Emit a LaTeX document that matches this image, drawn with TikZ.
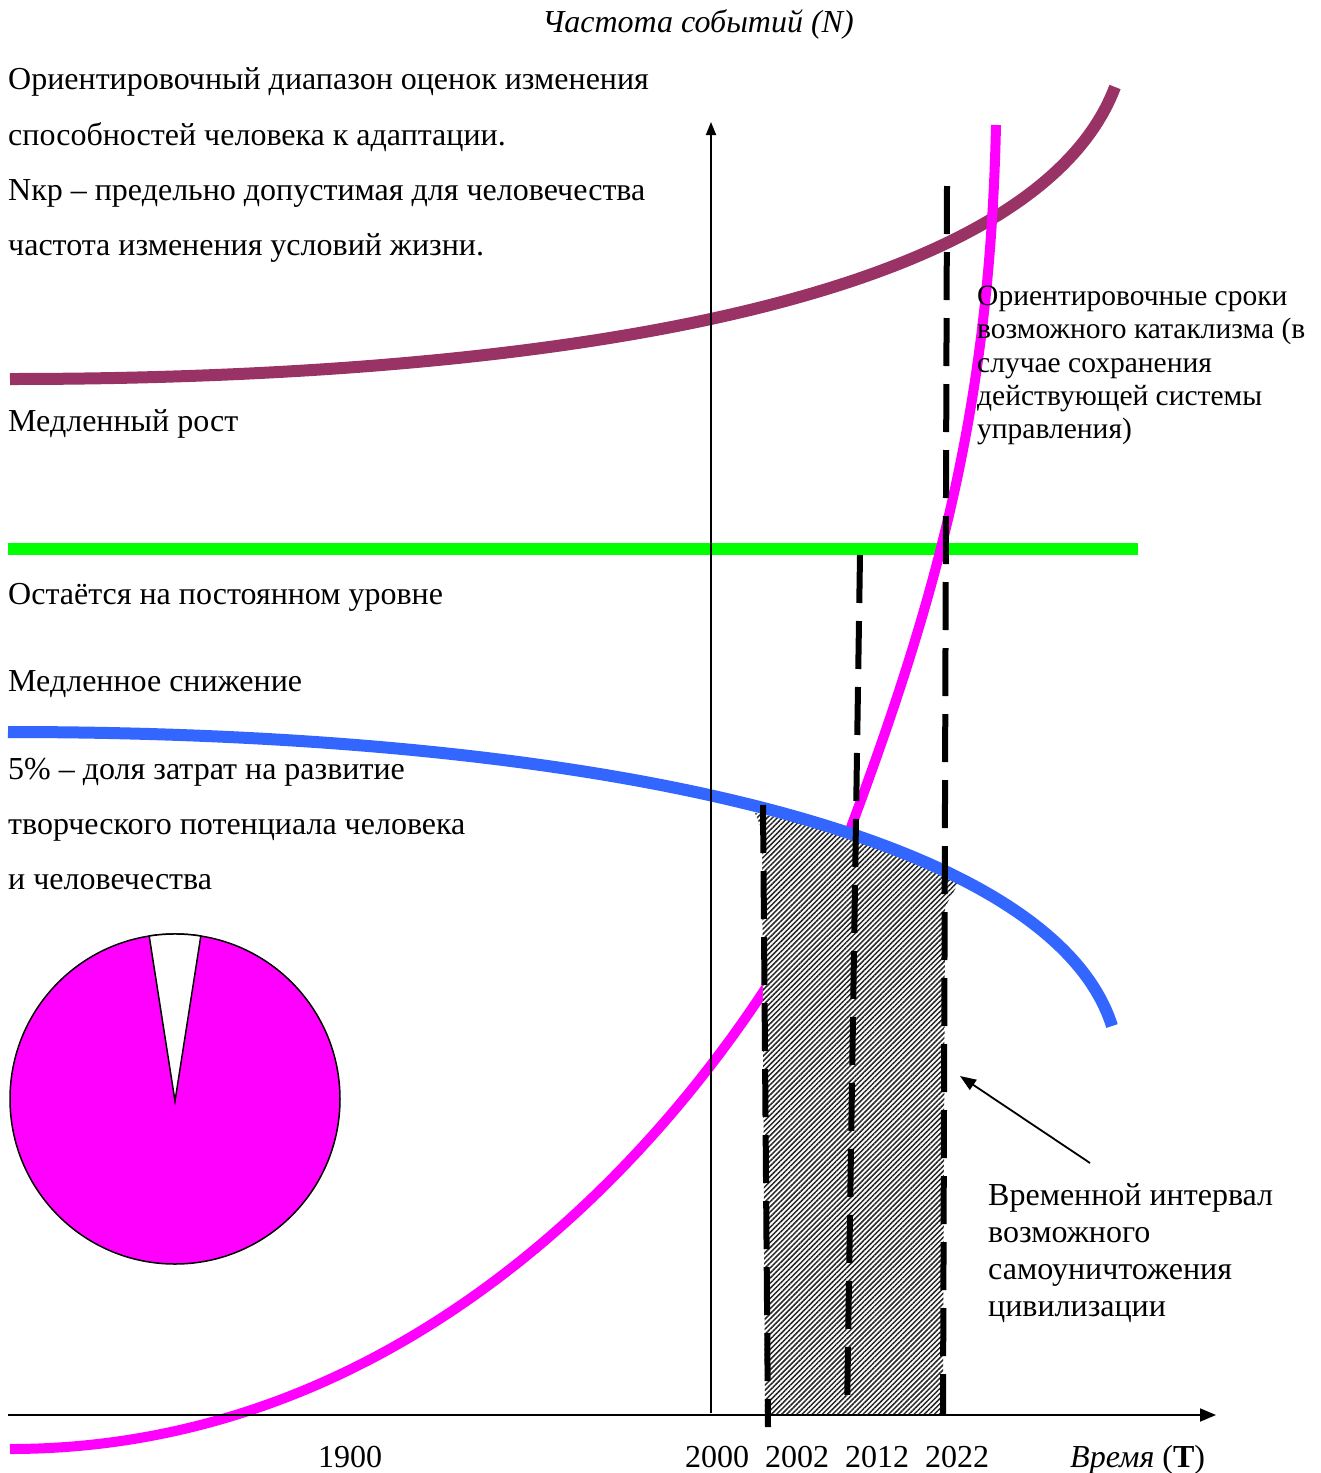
\documentclass[tikz,border=0pt]{standalone}
\usepackage{fontspec}
\setmainfont{Liberation Serif}
\usetikzlibrary{patterns.meta,arrows.meta}
\definecolor{plum}{HTML}{993366}
\definecolor{bluec}{HTML}{3366FF}
\definecolor{mag}{HTML}{FF00FF}
\definecolor{grn}{HTML}{00FF00}
\begin{document}
\begin{tikzpicture}[x=1pt,y=-1pt,
 txt/.style={anchor=base west,inner sep=0pt,font=\fontsize{32}{38}\selectfont},
 rtxt/.style={anchor=base west,inner sep=0pt,font=\fontsize{29.5}{33}\selectfont},
 yr/.style={anchor=base,inner sep=0pt,font=\fontsize{32}{38}\selectfont},
 curve/.style={line width=12pt},
 dline/.style={line width=6pt, dash pattern=on 48pt off 18pt},
 axisline/.style={line width=1.8pt}]
\fill[white] (0,0) rectangle (1321,1473);
\useasboundingbox (0,0) rectangle (1321,1473);

% curves
\coordinate (ps) at (10,379);
\coordinate (pe) at (1115,87);
\draw[curve,plum] (ps) .. controls (510,379) and (1030,312) .. (pe);
\coordinate (gl) at (8,549);
\coordinate (gr) at (1138,549);
\draw[curve,grn] (gl) -- (gr);
\coordinate (ms) at (10,1449);
\coordinate (mm) at (850,830);
\coordinate (me) at (996,125);
\draw[line width=10pt,mag] (ms) .. controls (510,1449) and (797.5,971) .. (mm) .. controls (941,586) and (990,400) .. (me);

% hatched interval
\fill[white] (755,813) -- (800,822) -- (850,837) -- (900,856) -- (959,882) -- (945,907) -- (943,1415) -- (765,1415) -- (762,830) -- cycle;
\fill[pattern={Lines[angle=45,distance=3.6pt,line width=1.5pt]},pattern color=black!85] (755,813) -- (800,822) -- (850,837) -- (900,856) -- (959,882) -- (945,907) -- (943,1415) -- (765,1415) -- (762,830) -- cycle;

\coordinate (bs) at (8,732);
\coordinate (be) at (1112,1026);
\draw[curve,bluec] (bs) .. controls (608,732) and (1052,836) .. (be);

% axes
\coordinate (yb) at (711,1413);
\coordinate (yt) at (711,122);
\coordinate (xl) at (8,1415);
\coordinate (xr) at (1216,1415);
\draw[axisline,-{Triangle[length=13pt,width=10pt]}] (yb) -- (yt);
\draw[axisline,-{Triangle[length=16pt,width=13pt]}] (xl) -- (xr);

% dashed lines
\coordinate (d1t) at (763,805);
\coordinate (d1b) at (768,1427);
\coordinate (d2t) at (860,555);
\coordinate (d2b) at (847,1413);
\coordinate (d3t) at (947,186);
\coordinate (d3b) at (943,1415);
\draw[dline] (d1t) -- (d1b);
\draw[dline] (d2t) -- (d2b);
\draw[dline] (d3t) -- (d3b);

% pie
\filldraw[fill=mag,draw=black,line width=1.5pt] (175,1099) circle[radius=165];
\filldraw[fill=white,draw=black,line width=1.5pt] (175,1101) -- (149.2,936) arc[start angle=-99,end angle=-81,radius=165] -- cycle;

% texts
\node[anchor=base,inner sep=0pt,font=\fontsize{32}{38}\selectfont\itshape] (title) at (698,32) {Частота событий (N)};
\node[txt] (t1) at (8,89) {Ориентировочный диапазон оценок изменения};
\node[txt] (t2) at (8,145) {способностей человека к адаптации.};
\node[txt] (t3) at (8,200) {Nкр – предельно допустимая для человечества};
\node[txt] (t4) at (8,255) {частота изменения условий жизни.};
\node[txt] (t5) at (8,431) {Медленный рост};
\node[txt] (t6) at (8,604) {Остаётся на постоянном уровне};
\node[txt] (t7) at (8,691) {Медленное снижение};
\node[txt] (t8) at (8,779) {5\% – доля затрат на развитие};
\node[txt] (t9) at (8,834) {творческого потенциала человека};
\node[txt] (t10) at (8,889) {и человечества};

\node[rtxt] (r1) at (977,305) {Ориентировочные сроки};
\node[rtxt] (r2) at (977,338) {возможного катаклизма (в};
\node[rtxt] (r3) at (977,372) {случае сохранения};
\node[rtxt] (r4) at (977,405) {действующей системы};
\node[rtxt] (r5) at (977,438) {управления)};

\node[txt] (b1) at (988,1205) {Временной интервал};
\node[txt] (b2) at (988,1242) {возможного};
\node[txt] (b3) at (988,1279) {самоуничтожения};
\node[txt] (b4) at (988,1316) {цивилизации};
\coordinate (atail) at (1090,1163);
\coordinate (ahead) at (960,1076);
\draw[line width=1.8pt,-{Triangle[length=16pt,width=12pt]}] (atail) -- (ahead);

\node[yr] (y1900) at (350,1467) {1900};
\node[yr] (y2000) at (717,1467) {2000};
\node[yr] (y2002) at (797,1467) {2002};
\node[yr] (y2012) at (877,1467) {2012};
\node[yr] (y2022) at (957,1467) {2022};
\node[anchor=base west,inner sep=0pt,font=\fontsize{32}{38}\selectfont] (tlab) at (1070,1467) {\textit{Время} (\textbf{T})};
\end{tikzpicture}
\end{document}
